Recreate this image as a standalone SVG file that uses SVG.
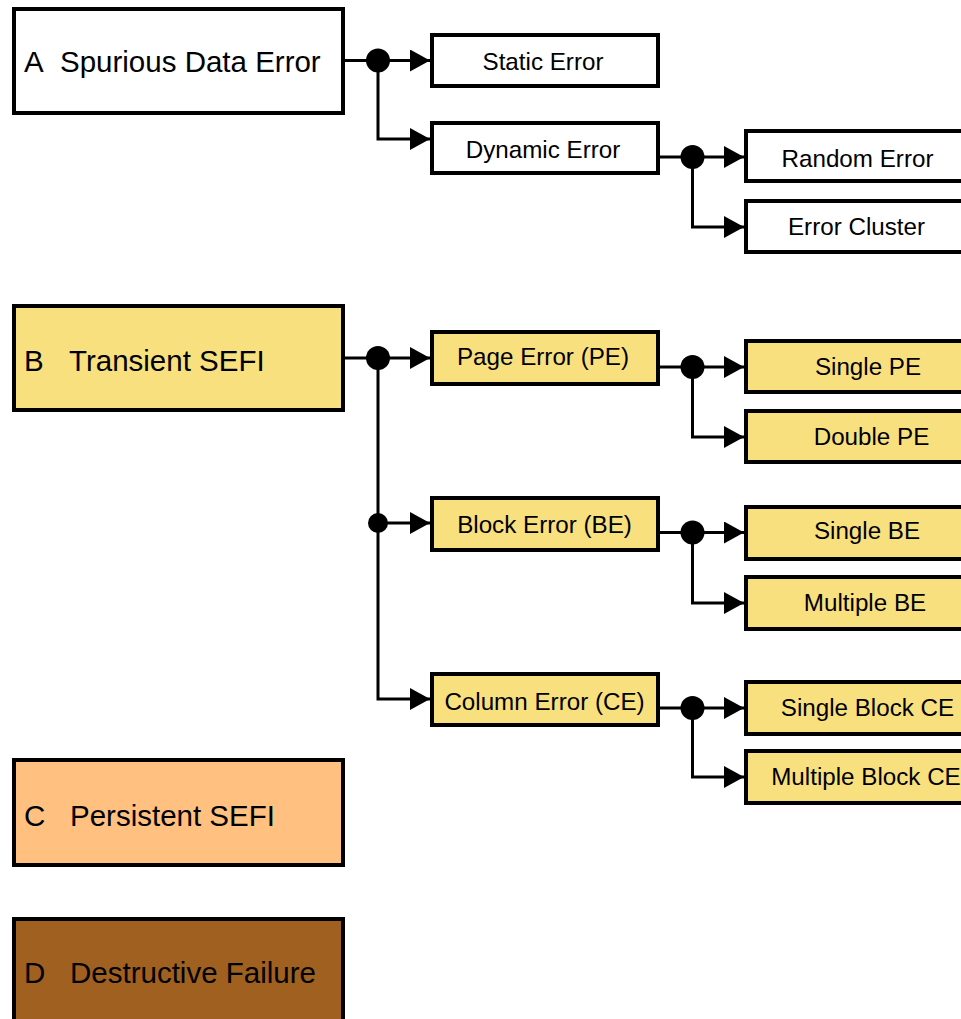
<svg xmlns="http://www.w3.org/2000/svg" width="961" height="1019" viewBox="0 0 961 1019">
<style>
.box{stroke:#000;stroke-width:4}
.w{fill:#fff}.y{fill:#F9E07E}.o{fill:#FFC080}.d{fill:#A0601F}
.big{font-family:"Liberation Sans",Arial,sans-serif;font-size:29.5px;fill:#000}
.sm{font-family:"Liberation Sans",Arial,sans-serif;font-size:24.2px;fill:#000;text-anchor:middle}
.ln{stroke:#000;stroke-width:3;fill:none}
.dot{fill:#000}
</style>
<defs>
<marker id="ah" viewBox="0 0 20 22" refX="20" refY="11" markerWidth="20" markerHeight="22" markerUnits="userSpaceOnUse" orient="auto">
<path d="M0,0 L20,11 L0,22 Z" fill="#000"/>
</marker>
</defs>
<rect width="961" height="1019" fill="#fff"/>

<g id="connectors">
<path class="ln" d="M345,60.5 H430" marker-end="url(#ah)"/>
<path class="ln" d="M378,60.5 V139 H430" marker-end="url(#ah)"/>
<circle class="dot" cx="378" cy="60.5" r="12"/>
<path class="ln" d="M659,157 H744" marker-end="url(#ah)"/>
<path class="ln" d="M692.5,157 V227 H744" marker-end="url(#ah)"/>
<circle class="dot" cx="692.5" cy="157" r="12"/>
<path class="ln" d="M345,358 H430" marker-end="url(#ah)"/>
<path class="ln" d="M378,358 V699 H430" marker-end="url(#ah)"/>
<path class="ln" d="M378,523 H430" marker-end="url(#ah)"/>
<circle class="dot" cx="378" cy="358" r="12"/>
<circle class="dot" cx="378" cy="523" r="10"/>
<path class="ln" d="M659,367 H744" marker-end="url(#ah)"/>
<path class="ln" d="M692.5,367 V437 H744" marker-end="url(#ah)"/>
<circle class="dot" cx="692.5" cy="367" r="12"/>
<path class="ln" d="M659,532.5 H744" marker-end="url(#ah)"/>
<path class="ln" d="M692.5,532.5 V603 H744" marker-end="url(#ah)"/>
<circle class="dot" cx="692.5" cy="532.5" r="12"/>
<path class="ln" d="M659,708 H744" marker-end="url(#ah)"/>
<path class="ln" d="M692.5,708 V777 H744" marker-end="url(#ah)"/>
<circle class="dot" cx="692.5" cy="708" r="12"/>
</g>

<g id="nodeA"><rect class="box w" x="14" y="9" width="329" height="104"/>
<text class="big" y="72"><tspan x="24">A</tspan><tspan x="60">Spurious Data Error</tspan></text></g>
<g id="nodeB"><rect class="box y" x="14" y="306" width="329" height="104"/>
<text class="big" y="371"><tspan x="24">B</tspan><tspan x="69">Transient SEFI</tspan></text></g>
<g id="nodeC"><rect class="box o" x="14" y="760" width="329" height="105"/>
<text class="big" y="826"><tspan x="24">C</tspan><tspan x="70">Persistent SEFI</tspan></text></g>
<g id="nodeD"><rect class="box d" x="14" y="919" width="329" height="110"/>
<text class="big" y="983"><tspan x="24">D</tspan><tspan x="70">Destructive Failure</tspan></text></g>

<g id="static"><rect class="box w" x="432" y="35" width="226" height="51"/><text class="sm" x="543" y="70">Static Error</text></g>
<g id="dynamic"><rect class="box w" x="432" y="123" width="226" height="50"/><text class="sm" x="543" y="158">Dynamic Error</text></g>
<g id="random"><rect class="box w" x="746" y="131" width="240" height="50"/><text class="sm" x="857.5" y="167">Random Error</text></g>
<g id="cluster"><rect class="box w" x="746" y="201" width="240" height="51"/><text class="sm" x="856.5" y="235">Error Cluster</text></g>

<g id="pe"><rect class="box y" x="432" y="332" width="226" height="52"/><text class="sm" x="543" y="365">Page Error (PE)</text></g>
<g id="be"><rect class="box y" x="432" y="498" width="226" height="52"/><text class="sm" x="544.5" y="533">Block Error (BE)</text></g>
<g id="ce"><rect class="box y" x="432" y="674" width="226" height="51"/><text class="sm" x="544.5" y="710">Column Error (CE)</text></g>

<g id="singlePE"><rect class="box y" x="746" y="341" width="250" height="51"/><text class="sm" x="868" y="375">Single PE</text></g>
<g id="doublePE"><rect class="box y" x="746" y="411" width="250" height="51"/><text class="sm" x="871.5" y="445">Double PE</text></g>
<g id="singleBE"><rect class="box y" x="746" y="507" width="250" height="52"/><text class="sm" x="867" y="539">Single BE</text></g>
<g id="multipleBE"><rect class="box y" x="746" y="577" width="250" height="52"/><text class="sm" x="865" y="611">Multiple BE</text></g>
<g id="singleBlockCE"><rect class="box y" x="746" y="682" width="250" height="52"/><text class="sm" x="867.5" y="716">Single Block CE</text></g>
<g id="multipleBlockCE"><rect class="box y" x="746" y="751" width="250" height="52"/><text class="sm" x="866" y="785">Multiple Block CE</text></g>
</svg>
